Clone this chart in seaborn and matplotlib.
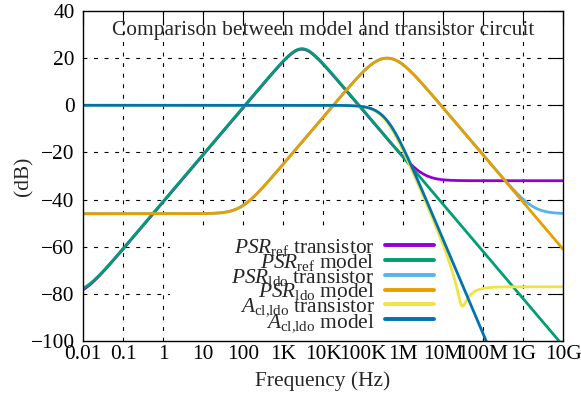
import numpy as np
import pandas as pd
import seaborn as sns
import matplotlib
matplotlib.use("Agg")
import matplotlib.pyplot as plt
from matplotlib.lines import Line2D
from matplotlib.patches import Rectangle

# ---- axis ticks -------------------------------------------------------------
freq_ticks = [1e-2, 1e-1, 1e0, 1e1, 1e2, 1e3, 1e4, 1e5, 1e6, 1e7, 1e8, 1e9, 1e10]
freq_labels = ["0.01", "0.1", "1", "10", "100", "1K", "10K", "100K",
               "1M", "10M", "100M", "1G", "10G"]
db_ticks = [40, 20, 0, -20, -40, -60, -80, -100]

# ---- series -----------------------------------------------------------------
series_names = [
    r"$PSR_{\mathrm{ref}}$ transistor",
    r"$PSR_{\mathrm{ref}}$ model",
    r"$PSR_{\mathrm{ldo}}$ transistor",
    r"$PSR_{\mathrm{ldo}}$ model",
    r"$A_{\mathrm{cl{,}ldo}}$ transistor",
    r"$A_{\mathrm{cl{,}ldo}}$ model",
]
series_colors = ["#9400d3", "#009e73", "#56b4e9", "#e69f00", "#f0e442", "#0072b2"]

# Band-pass responses:
# [peak gain dB, centre freq Hz, Q, low-frequency floor dB, high-frequency floor dB]
psr_ref_transistor = [23.8, 2.97e3, 0.59, -81.5, -32.0]
psr_ref_model = [24.0, 2.97e3, 0.59, -80.6, None]
psr_ldo_transistor = [20.0, 4.0e5, 0.45, -46.0, -46.0]
psr_ldo_model = [20.0, 4.0e5, 0.45, -46.0, None]

# Closed-loop gain (2nd-order low-pass):
# [DC gain dB, pole freq Hz, Q, feed-through level dB, feed-through phase rad]
acl_ldo_transistor = [0.0, 3.52e5, 0.50, -77.0, 0.42]
acl_ldo_model = [0.0, 3.80e5, 0.50, None, 0.0]


def bandpass_db(f, peak_db, fc, q, lo_db, hi_db):
    p = 10 ** (peak_db / 20)
    x = f / fc
    h = p * (1j * x / q) / (1 - x ** 2 + 1j * x / q)
    fa = 10 ** (lo_db / 20) * fc * q / p
    h = h * (1 + fa / (1j * f))
    if hi_db is not None:
        fb = p * fc / (q * 10 ** (hi_db / 20))
        h = h * (1 + 1j * f / fb)
    return 20 * np.log10(np.abs(h))


def lowpass_db(f, dc_db, f0, q, ft_db, ft_phase):
    x = f / f0
    h = 10 ** (dc_db / 20) / (1 - x ** 2 + 1j * x / q)
    if ft_db is not None:
        h = h + 10 ** (ft_db / 20) * np.exp(1j * ft_phase)
    return 20 * np.log10(np.abs(h))


freq = np.logspace(-2, 10, 4000)
responses = [
    bandpass_db(freq, *psr_ref_transistor),
    bandpass_db(freq, *psr_ref_model),
    bandpass_db(freq, *psr_ldo_transistor),
    bandpass_db(freq, *psr_ldo_model),
    lowpass_db(freq, *acl_ldo_transistor),
    lowpass_db(freq, *acl_ldo_model),
]
df = pd.concat(
    [pd.DataFrame({"freq": freq, "db": r, "series": n})
     for n, r in zip(series_names, responses)],
    ignore_index=True,
)

# ---- style ------------------------------------------------------------------
sns.set_theme(style="white")
plt.rcParams["font.family"] = ["Liberation Serif", "DejaVu Serif"]
plt.rcParams["mathtext.fontset"] = "custom"
plt.rcParams["mathtext.rm"] = "Liberation Serif"
plt.rcParams["mathtext.it"] = "Liberation Serif:italic"
plt.rcParams["mathtext.bf"] = "Liberation Serif:bold"

FS = 15.4
fig = plt.figure(figsize=(5.81, 3.95), dpi=100)
ax = fig.add_axes([83 / 581, 1 - 341 / 395, 480 / 581, 330 / 395])
ax.set_xscale("log")

# dashed grid behind everything
grid_style = dict(color="black", linewidth=0.8, linestyle=(0, (3.5, 6)), zorder=0.5)
for t in freq_ticks[1:-1]:
    ax.axvline(t, **grid_style)
for t in db_ticks[1:-1]:
    ax.axhline(t, **grid_style)

# opaque key area hides the grid beneath the legend
ax.add_patch(Rectangle((0.182, 0.0), 0.645, 0.336, transform=ax.transAxes,
                       facecolor="white", edgecolor="none", zorder=1))

sns.lineplot(data=df, x="freq", y="db", hue="series", hue_order=series_names,
             palette=series_colors, estimator=None, sort=False, linewidth=2.0,
             legend=False, ax=ax)

ax.set_xlim(1e-2, 1e10)
ax.set_ylim(-100, 40)
ax.set_xticks(freq_ticks)
ax.set_xticklabels(freq_labels)
ax.minorticks_off()
ax.set_yticks(db_ticks)
ax.tick_params(direction="in", length=10, width=0.8, top=True, right=True,
               labelsize=FS, colors="black")
ax.tick_params(axis="x", pad=3)
ax.tick_params(axis="y", pad=6)
for s in ax.spines.values():
    s.set_color("black")
    s.set_linewidth(1.0)

ax.set_xlabel("Frequency (Hz)", fontsize=FS, labelpad=5)
ax.set_ylabel("(dB)", fontsize=FS, labelpad=-2)

ax.text(0.501, 0.927, "Comparison between model and transistor circuit",
        transform=ax.transAxes, ha="center", va="baseline", fontsize=FS)

handles = [Line2D([], [], color=c, linewidth=2.8) for c in series_colors]
ax.legend(handles, series_names, loc="lower right", bbox_to_anchor=(0.753, -0.01),
          frameon=False, markerfirst=False, handlelength=2.3, handletextpad=0.47,
          labelspacing=-0.29, borderpad=0, fontsize=FS)

fig.savefig("out.png", dpi=100)
